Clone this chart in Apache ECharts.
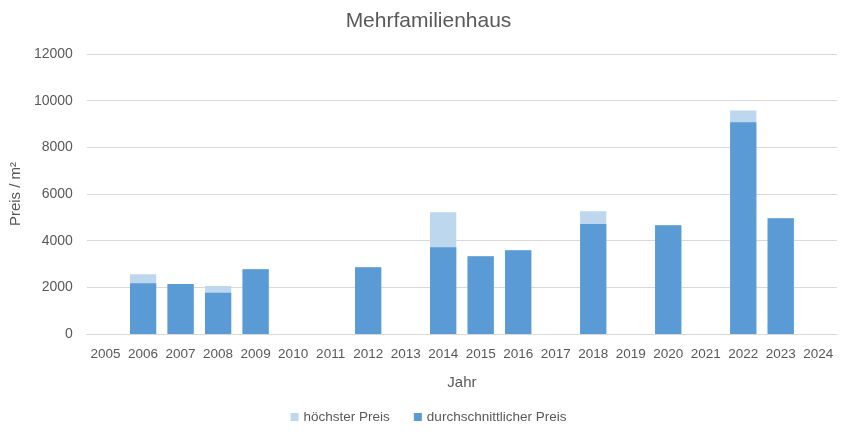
<!DOCTYPE html>
<html><head><meta charset="utf-8">
<script src="https://cdn.jsdelivr.net/npm/echarts@6/dist/echarts.min.js"></script>
<style>html,body{margin:0;padding:0;background:#fff}#c{width:857px;height:433px}</style>
</head><body><div id="c"></div>
<script>
const years = ['2005','2006','2007','2008','2009','2010','2011','2012','2013','2014','2015','2016','2017','2018','2019','2020','2021','2022','2023','2024'];
const hoechsterPreis = [null,2565,2140,2055,2780,null,null,2865,null,5220,3335,3590,null,5260,null,4660,null,9580,4960,null];
const durchschnittPreis = [null,2180,2140,1765,2780,null,null,2865,null,3720,3335,3590,null,4715,null,4660,null,9080,4960,null];
const yTicks = {min:0, max:12000, interval:2000};
const FONT = '"Liberation Sans",sans-serif';
const chart = echarts.init(document.getElementById('c'), null, {renderer:'canvas'});
chart.setOption({
  animation:false,
  textStyle:{fontFamily:FONT},
  title:{text:'Mehrfamilienhaus', left:'center', top:6, textStyle:{fontFamily:FONT, fontSize:21, fontWeight:'normal', color:'#595959'}},
  legend:{bottom:4, left:'center', itemWidth:8, itemHeight:8, itemGap:24, icon:'rect',
    textStyle:{fontFamily:FONT, fontSize:13.5, color:'#595959'},
    data:['höchster Preis','durchschnittlicher Preis']},
  grid:{left:86, right:20, top:54, bottom:99},
  xAxis:{type:'category', data:years, name:'Jahr', nameLocation:'middle', nameGap:41,
    nameTextStyle:{fontFamily:FONT, fontSize:15, color:'#595959'},
    axisLine:{lineStyle:{color:'#d9d9d9'}}, axisTick:{show:false},
    axisLabel:{fontFamily:FONT, fontSize:13.5, color:'#595959', margin:13, interval:0}},
  yAxis:{type:'value', min:yTicks.min, max:yTicks.max, interval:yTicks.interval, name:'Preis / m²', nameLocation:'middle', nameGap:58,
    nameTextStyle:{fontFamily:FONT, fontSize:15, color:'#595959'},
    axisLine:{show:false}, axisTick:{show:false},
    axisLabel:{fontFamily:FONT, fontSize:14, color:'#595959', margin:14, formatter:v=>String(v)},
    splitLine:{lineStyle:{color:'#d9d9d9'}}},
  series:[
    {name:'höchster Preis', type:'bar', data:hoechsterPreis, barWidth:'70%', barGap:'-100%', itemStyle:{color:'#bdd7ee'}},
    {name:'durchschnittlicher Preis', type:'bar', data:durchschnittPreis, barWidth:'70%', barGap:'-100%', itemStyle:{color:'#5b9bd5'}}
  ]
});
</script></body></html>
